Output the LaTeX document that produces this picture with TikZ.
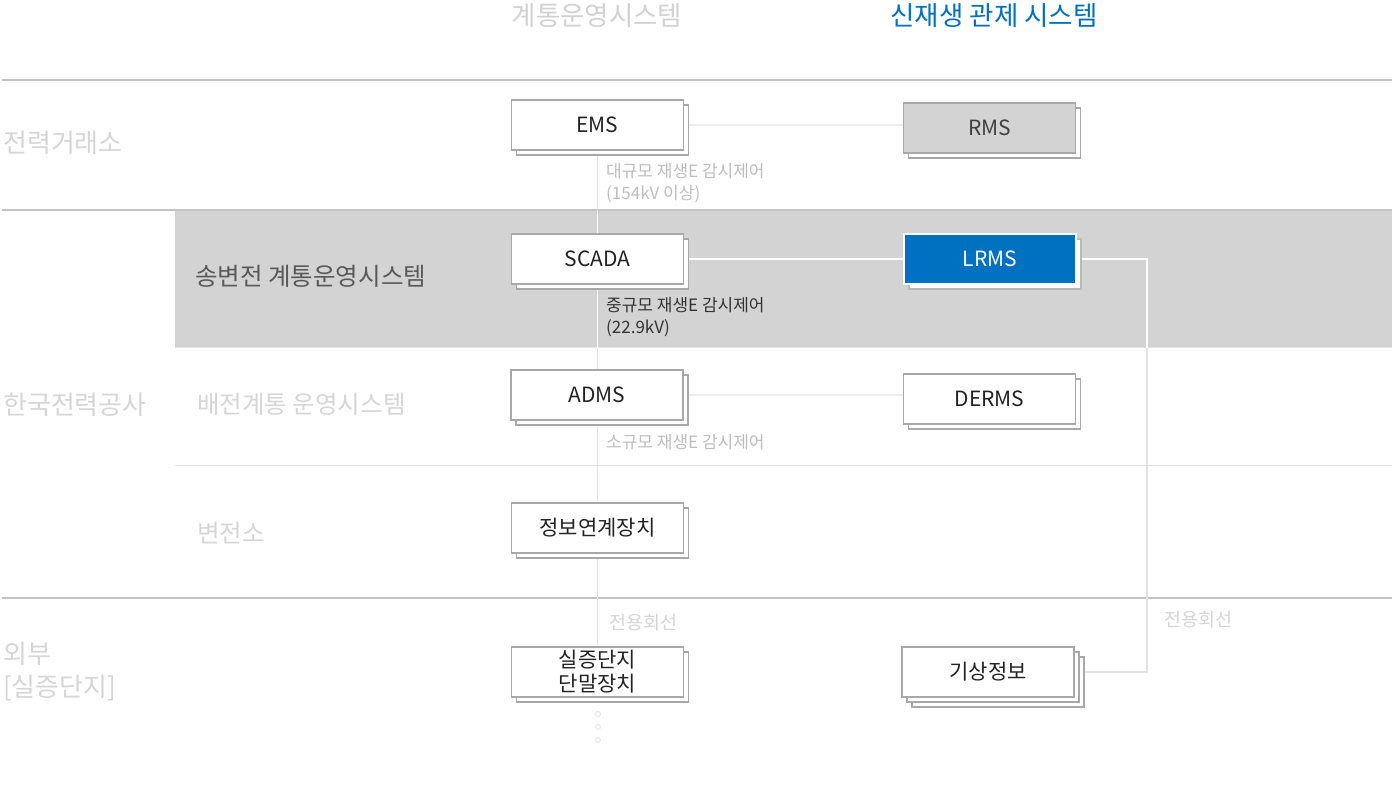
\documentclass[tikz,border=0pt]{standalone}
\usepackage{fontspec}
\setmainfont{Noto Sans CJK KR}
\usetikzlibrary{shadows}
\definecolor{hdrgray}{HTML}{D2D2D2}
\definecolor{lblgray}{HTML}{D6D6D6}
\definecolor{notegray}{HTML}{BEBEBE}
\definecolor{rulegray}{HTML}{C2C2C2}
\definecolor{thingray}{HTML}{E2E2E2}
\definecolor{bandgray}{HTML}{D3D3D3}
\definecolor{boxborder}{HTML}{A8A8A8}
\definecolor{mainblue}{HTML}{0070C0}
\definecolor{txtdark}{HTML}{222222}
\definecolor{connlight}{HTML}{EEEEEE}
\pgfdeclarelayer{bandlayer}
\pgfdeclarelayer{connlayer}
\pgfsetlayers{bandlayer,connlayer,main}
\tikzset{
  sysbox/.style={draw=boxborder, line width=1.6pt, fill=white, minimum width=172pt, minimum height=50pt,
    inner sep=0pt, text=txtdark, font=\fontsize{21}{23}\selectfont,
    general shadow={shadow xshift=5pt, shadow yshift=-5pt, fill=white, draw=boxborder, line width=1.6pt}},
  rmsbox/.style={sysbox, fill=bandgray, text=black!75},
  bluebox/.style={sysbox, draw=white, fill=mainblue, text=white,
    general shadow={shadow xshift=5pt, shadow yshift=-5pt, fill=white, draw=boxborder!80, line width=1.6pt}},
  triplebox/.style={sysbox,
    general shadow={shadow xshift=10pt, shadow yshift=-10pt, fill=white, draw=boxborder, line width=1.6pt},
    general shadow={shadow xshift=5pt, shadow yshift=-5pt, fill=white, draw=boxborder, line width=1.6pt}},
  hdr/.style={font=\fontsize{26.5}{30}\selectfont},
  rowlbl/.style={anchor=west, text=lblgray, font=\fontsize{26}{33}\selectfont, align=left, inner sep=0pt},
  sublbl/.style={anchor=west, text=lblgray, font=\fontsize{24.5}{28}\selectfont, inner sep=0pt},
  note/.style={anchor=north west, align=left, inner sep=0pt, font=\fontsize{17}{22}\selectfont},
  rule/.style={draw=rulegray, line width=2pt},
  conn/.style={draw=connlight, line width=2pt},
  bandconn/.style={draw=white, line width=2pt},
  vline/.style={draw=thingray, line width=1.5pt},
  dotc/.style={circle, draw=thingray, line width=0.8pt, minimum size=5pt, inner sep=0pt},
  lineslbl/.style={anchor=west, inner sep=0pt, text=lblgray, font=\fontsize{18.5}{22}\selectfont},
}
\begin{document}
\begin{tikzpicture}[x=1pt,y=-1pt]
\useasboundingbox (0,0) rectangle (1394,789);

\begin{pgfonlayer}{bandlayer}
\fill[white] (0,0) rectangle (1394,789);
\fill[bandgray] (175,210) rectangle (1392,347);
\draw[draw=thingray, line width=1pt] (175,347.5) -- (1392,347.5);
\draw[draw=thingray, line width=1pt] (175,465) -- (1392,465);
\draw[rule] (2,80) -- (1392,80);
\draw[rule] (2,210) -- (1392,210);
\draw[rule] (2,598) -- (1392,598);
\end{pgfonlayer}

% headers
\node[hdr, text=hdrgray] (h1) at (597,16) {계통운영시스템};
\node[hdr, text=mainblue] (h2) at (994,16) {신재생 관제 시스템};

% row labels
\node[rowlbl] (r1) at (3,143) {전력거래소};
\node[rowlbl] (r2) at (3,405) {한국전력공사};
\node[rowlbl] (r3) at (3,671) {외부\\{[}실증단지{]}};

\node[sublbl, text=black!65] (s1) at (195,276) {송변전 계통운영시스템};
\node[sublbl] (s2) at (197,404) {배전계통 운영시스템};
\node[sublbl] (s3) at (197,533) {변전소};

% boxes
\node[sysbox] (ems) at (597.5,125) {EMS};
\node[rmsbox] (rms) at (989.5,128) {RMS};
\node[sysbox] (scada) at (597.5,259) {SCADA};
\node[bluebox] (lrms) at (990,259) {LRMS};
\node[sysbox] (adms) at (597,395) {ADMS};
\node[sysbox] (derms) at (989.5,399) {DERMS};
\node[sysbox] (gw) at (597.5,528) {정보연계장치};
\node[sysbox, align=center, font=\fontsize{21}{24}\selectfont] (term) at (597.5,672) {실증단지\\단말장치};
\node[triplebox] (wx) at (988,672) {기상정보};

% dots
\node[dotc] (d1) at (598,714) {};
\node[dotc] (d2) at (598,727) {};
\node[dotc] (d3) at (598,740) {};

% connectors
\coordinate (elb) at (1147,460);
\begin{pgfonlayer}{connlayer}
\draw[vline] (ems.south) -- (term.north);
\draw[conn] (ems.east) -- (rms.west |- ems.east);
\draw[conn] (adms.east) -- (derms.west |- adms.east);
\draw[vline] (lrms.east) -| (elb) |- (wx.east);
\begin{scope}
\clip (175,211) rectangle (1392,347);
\draw[bandconn, line width=1.5pt] (ems.south) -- (term.north);
\draw[bandconn, line width=1.5pt] (lrms.east) -| (elb) |- (wx.east);
\end{scope}
\draw[bandconn] (scada.east) -- (lrms.west);
\end{pgfonlayer}

% notes
\node[note, text=notegray] (n1) at (606,163) {대규모 재생E 감시제어\\(154kV 이상)};
\node[note, text=black!80] (n2) at (606,297) {중규모 재생E 감시제어\\(22.9kV)};
\node[note, text=notegray] (n3) at (606,434) {소규모 재생E 감시제어};
\node[lineslbl] (l1) at (609,623) {전용회선};
\node[lineslbl] (l2) at (1164,620) {전용회선};
\end{tikzpicture}
\end{document}
